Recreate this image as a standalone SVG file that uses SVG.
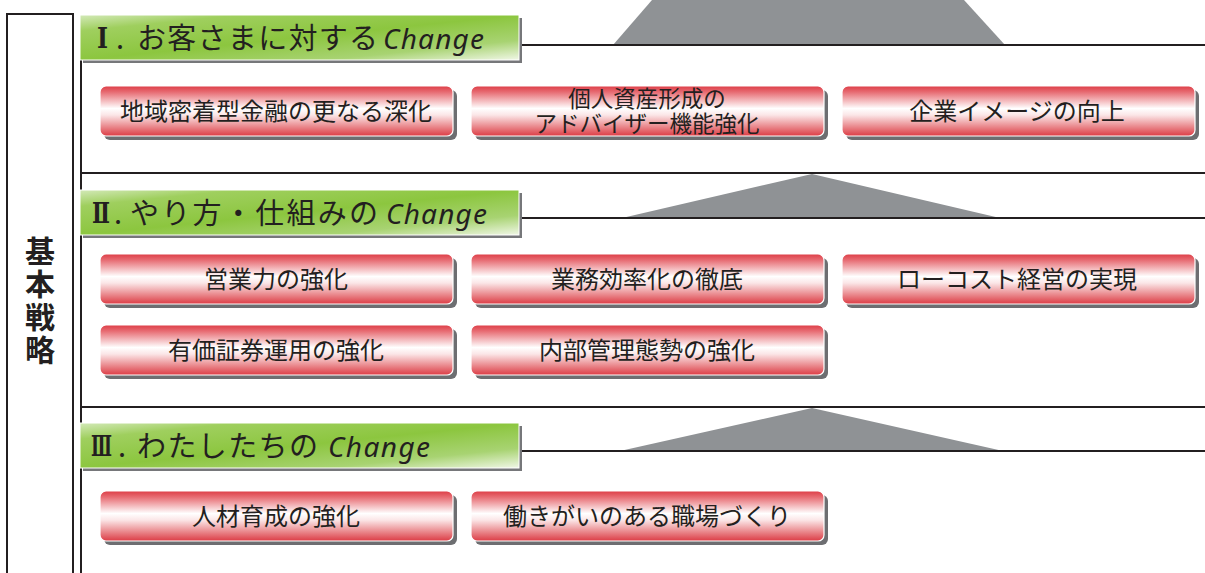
<svg xmlns="http://www.w3.org/2000/svg" width="1205" height="573" viewBox="0 0 1205 573">
<defs>
<linearGradient id="redGrad" x1="0" y1="0" x2="0" y2="1">
<stop offset="0" stop-color="#dd3d46"/>
<stop offset="0.12" stop-color="#e76b72"/>
<stop offset="0.45" stop-color="#ffffff"/>
<stop offset="0.58" stop-color="#fbe6e7"/>
<stop offset="0.85" stop-color="#e7797e"/>
<stop offset="1" stop-color="#dc3c45"/>
</linearGradient>
<linearGradient id="greenGrad" x1="0" y1="0" x2="1" y2="1" gradientUnits="objectBoundingBox">
<stop offset="0" stop-color="#d3e9b8"/>
<stop offset="0.18" stop-color="#9fcf5e"/>
<stop offset="0.5" stop-color="#8cc63f"/>
<stop offset="0.78" stop-color="#a8d372"/>
<stop offset="1" stop-color="#f0f7e6"/>
</linearGradient>
<style>
.frame{fill:none;stroke:#231f20;stroke-width:2}
.arrow{fill:#8f9295}
.hsh{fill:#76777a}
.hdr{fill:url(#greenGrad);stroke:#ffffff;stroke-width:1}
.bsh{fill:#6d6e71}
.btn{fill:url(#redGrad);stroke:#ffffff;stroke-width:1.2}
.jp{font-family:"Noto Sans CJK JP","Noto Sans CJK SC",sans-serif;fill:#231f20}
.btxt{font-size:24px;text-anchor:middle}
.htxt{font-size:29px}
.num{font-family:"DejaVu Serif","Noto Sans CJK JP",serif;font-size:27px;font-weight:bold;fill:#231f20}
.dot{font-family:"Noto Sans CJK JP","Noto Sans CJK SC",sans-serif;font-size:29px;font-weight:normal}
.chg{font-family:"Noto Sans","DejaVu Sans",sans-serif;font-style:italic;font-size:28px;fill:#231f20}
.side{font-size:30px;font-weight:bold;writing-mode:vertical-rl;letter-spacing:3px}
</style>
</defs>
<rect width="1205" height="573" fill="#ffffff"/>

<g id="connectors">
<polygon class="arrow" points="652,0 964,0 1005,45 613,45"/>
<polygon class="arrow" points="812,174 1000,218 622,218"/>
<polygon class="arrow" points="812,408 1003,451 620,451"/>
</g>

<g id="frames">
<rect class="frame" x="7" y="14" width="66" height="580"/>
<line class="frame" x1="81" y1="55" x2="81" y2="573"/>
<line class="frame" x1="520" y1="45" x2="1205" y2="45"/>
<line class="frame" x1="80" y1="173" x2="1205" y2="173"/>
<line class="frame" x1="520" y1="218" x2="1205" y2="218"/>
<line class="frame" x1="80" y1="407" x2="1205" y2="407"/>
<line class="frame" x1="520" y1="451" x2="1205" y2="451"/>
</g>

<g id="side-label">
<text class="jp side" x="40" y="236">基本戦略</text>
</g>

<g id="header-1">
<rect class="hsh" x="83" y="18" width="439" height="45"/>
<rect class="hdr" x="80" y="15" width="439" height="45"/>
<text class="num" y="48"><tspan x="97" textLength="11" lengthAdjust="spacingAndGlyphs">Ⅰ</tspan><tspan class="dot" x="116" y="49">.</tspan></text>
<text class="jp htxt" x="137" y="49" textLength="241">お客さまに対する</text>
<text class="chg" x="383" y="49" textLength="101">Change</text>
</g>

<g id="header-2">
<rect class="hsh" x="83" y="193" width="439" height="45"/>
<rect class="hdr" x="80" y="190" width="439" height="45"/>
<text class="num" y="223"><tspan x="92" textLength="18" lengthAdjust="spacingAndGlyphs">Ⅱ</tspan><tspan class="dot" x="114" y="224">.</tspan></text>
<text class="jp htxt" x="130" y="224" textLength="248">やり方・仕組みの</text>
<text class="chg" x="386" y="224" textLength="101">Change</text>
</g>

<g id="header-3">
<rect class="hsh" x="83" y="426" width="439" height="45"/>
<rect class="hdr" x="80" y="423" width="439" height="45"/>
<text class="num" y="456"><tspan x="91" textLength="21" lengthAdjust="spacingAndGlyphs">Ⅲ</tspan><tspan class="dot" x="118" y="457">.</tspan></text>
<text class="jp htxt" x="137" y="457" textLength="181">わたしたちの</text>
<text class="chg" x="328" y="457" textLength="102">Change</text>
</g>

<g id="node-1-1">
<rect class="bsh" x="104" y="90" width="353" height="50" rx="6"/>
<rect class="btn" x="100" y="86" width="353" height="50" rx="6"/>
<text class="jp btxt" x="276" y="119.5">地域密着型金融の更なる深化</text>
</g>
<g id="node-1-2">
<rect class="bsh" x="475" y="90" width="353" height="50" rx="6"/>
<rect class="btn" x="471" y="86" width="353" height="50" rx="6"/>
<text class="jp btxt" style="font-size:22.5px"><tspan x="647" y="106.5">個人資産形成の</tspan><tspan x="647" y="131.5">アドバイザー機能強化</tspan></text>
</g>
<g id="node-1-3">
<rect class="bsh" x="846" y="90" width="353" height="50" rx="6"/>
<rect class="btn" x="842" y="86" width="353" height="50" rx="6"/>
<text class="jp btxt" x="1017" y="119.5">企業イメージの向上</text>
</g>

<g id="node-2-1">
<rect class="bsh" x="104" y="258" width="353" height="50" rx="6"/>
<rect class="btn" x="100" y="254" width="353" height="50" rx="6"/>
<text class="jp btxt" x="276" y="287.5">営業力の強化</text>
</g>
<g id="node-2-2">
<rect class="bsh" x="475" y="258" width="353" height="50" rx="6"/>
<rect class="btn" x="471" y="254" width="353" height="50" rx="6"/>
<text class="jp btxt" x="647" y="287.5">業務効率化の徹底</text>
</g>
<g id="node-2-3">
<rect class="bsh" x="846" y="258" width="353" height="50" rx="6"/>
<rect class="btn" x="842" y="254" width="353" height="50" rx="6"/>
<text class="jp btxt" x="1017" y="287.5">ローコスト経営の実現</text>
</g>
<g id="node-2-4">
<rect class="bsh" x="104" y="329" width="353" height="50" rx="6"/>
<rect class="btn" x="100" y="325" width="353" height="50" rx="6"/>
<text class="jp btxt" x="276" y="358.5">有価証券運用の強化</text>
</g>
<g id="node-2-5">
<rect class="bsh" x="475" y="329" width="353" height="50" rx="6"/>
<rect class="btn" x="471" y="325" width="353" height="50" rx="6"/>
<text class="jp btxt" x="647" y="358.5">内部管理態勢の強化</text>
</g>

<g id="node-3-1">
<rect class="bsh" x="104" y="495" width="353" height="50" rx="6"/>
<rect class="btn" x="100" y="491" width="353" height="50" rx="6"/>
<text class="jp btxt" x="276" y="524.5">人材育成の強化</text>
</g>
<g id="node-3-2">
<rect class="bsh" x="475" y="495" width="353" height="50" rx="6"/>
<rect class="btn" x="471" y="491" width="353" height="50" rx="6"/>
<text class="jp btxt" x="647" y="524.5">働きがいのある職場づくり</text>
</g>
</svg>
